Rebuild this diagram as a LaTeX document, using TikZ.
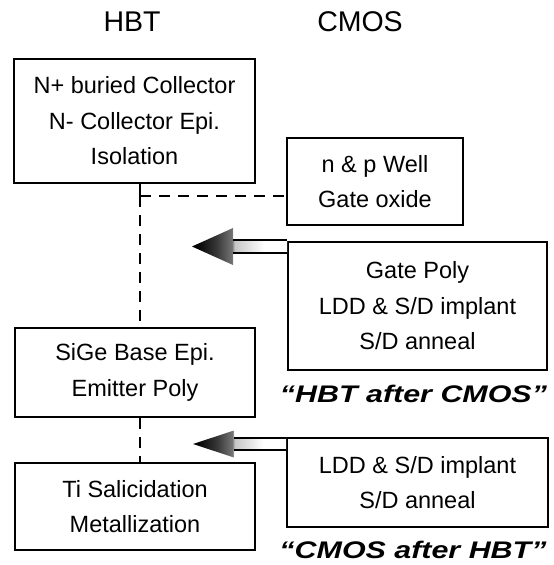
\documentclass[tikz,border=0pt]{standalone}
\usepackage{fontspec}
\setmainfont{Liberation Sans}
\usetikzlibrary{calc}
\usepackage{graphicx}

% grey ramp for the block arrows: dark head, shaft fading to white
\pgfdeclarehorizontalshading{arrowramp}{100bp}{%
  color(0bp)=(black); color(27bp)=(black); color(38bp)=(black!78);
  color(46bp)=(black!55); color(47.5bp)=(black!22); color(63bp)=(white);
  color(100bp)=(white)}

\tikzset{
  stepbox/.style={draw, line width=2pt, align=center, inner sep=0pt,
    font=\fontsize{23.5}{35.5}\selectfont},
  heading/.style={font=\fontsize{28.5}{30}\selectfont, inner sep=0pt},
  flowlink/.style={line width=2.1pt, dash pattern=on 11pt off 8pt},
  caption/.style={inner sep=0pt, anchor=base,
    font=\fontsize{24}{26}\selectfont\bfseries\itshape},
  shaftline/.style={line width=1.5pt},
}

\newcommand{\stretchedcap}[1]{\resizebox{267pt}{\height}{#1}}

\begin{document}
\begin{tikzpicture}[x=1pt, y=-1pt]
  \useasboundingbox (0,0) rectangle (554,565);

  % column headings
  \node[heading] (hHBT) at (132,22) {HBT};
  \node[heading] (hCMOS) at (360,22) {CMOS};

  % HBT steps
  \node[stepbox, minimum width=241pt, minimum height=124pt] (coll) at (134.5,121)
    {N+ buried Collector\\N- Collector Epi.\\Isolation};
  \node[stepbox, minimum width=240pt, minimum height=89pt] (sige) at (135,372.5)
    {SiGe Base Epi.\\Emitter Poly};
  \node[stepbox, minimum width=240pt, minimum height=87pt] (tisal) at (135,506.5)
    {Ti Salicidation\\Metallization};

  % CMOS steps
  \node[stepbox, minimum width=176pt, minimum height=87pt] (well) at (375,181.5)
    {n \& p Well\\Gate oxide};
  \node[stepbox, minimum width=259pt, minimum height=128pt] (gpoly) at (417.5,306)
    {Gate Poly\\LDD \& S/D implant\\S/D anneal};
  \node[stepbox, minimum width=261pt, minimum height=89pt] (ldd) at (417.5,482.5)
    {LDD \& S/D implant\\S/D anneal};

  % dashed process flow
  \coordinate (jct) at (140,196);
  \draw[line width=2.1pt] (jct |- coll.south) -- (jct);
  \draw[flowlink] (jct) -- (jct |- sige.north);
  \draw[flowlink] (jct) -- (jct -| well.west);
  \draw[flowlink] (jct |- sige.south) -- (jct |- tisal.north);

  % block arrows from the CMOS steps
  \coordinate (tipA) at (192,246.5);
  \coordinate (tipB) at (193,444);
  \foreach \tip/\src/\hh/\sh in {tipA/gpoly/18.5/6.5, tipB/ldd/13.5/6} {
    \shade[shading=arrowramp]
      (\tip) -- ($(\tip)+(41,-\hh)$) -- ($(\tip)+(41,-\sh)$)
      -- ($(\src.west |- \tip)+(0,-\sh)$) -- ($(\src.west |- \tip)+(0,\sh)$)
      -- ($(\tip)+(41,\sh)$) -- ($(\tip)+(41,\hh)$) -- cycle;
    \draw[shaftline] ($(\tip)+(41,-\sh)$) -- ($(\src.west |- \tip)+(0,-\sh)$);
    \draw[shaftline] ($(\tip)+(41,\sh)$) -- ($(\src.west |- \tip)+(0,\sh)$);
  }

  % flow captions
  \node[caption] (capA) at (413.5,402.5) {\stretchedcap{“HBT after CMOS”}};
  \node[caption] (capB) at (413,558) {\stretchedcap{“CMOS after HBT”}};
\end{tikzpicture}
\end{document}
